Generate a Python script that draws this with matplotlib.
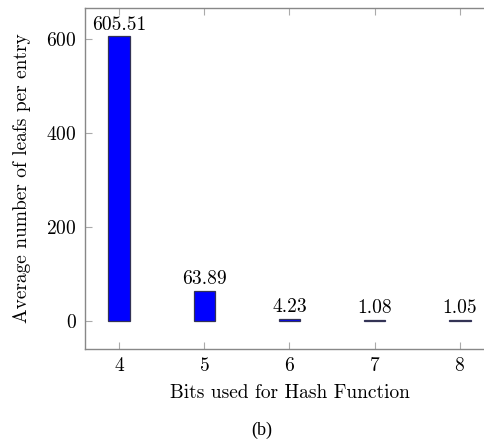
import matplotlib.pyplot as plt

bits = [4, 5, 6, 7, 8]
avg_leafs = [605.51, 63.89, 4.23, 1.08, 1.05]
bar_labels = ['605.51', '63.89', '4.23', '1.08', '1.05']

plt.rcParams['font.family'] = ['cmr10', 'DejaVu Serif']
plt.rcParams['axes.formatter.use_mathtext'] = True

fig = plt.figure(figsize=(4.85, 4.41), dpi=100)
# axes box in pixels: left 85, right ~494 (cut by figure), top 8, bottom 349
ax = fig.add_axes([85 / 485, 1 - 349 / 441, 409 / 485, 341 / 441])

ax.bar(bits, avg_leafs, width=0.25, color='#0000ff',
       edgecolor='#333355', linewidth=0.9, zorder=3)
for x, y, s in zip(bits, avg_leafs, bar_labels):
    ax.annotate(s, (x, y), xytext=(0, 2), textcoords='offset points',
                ha='center', va='bottom', fontsize=14)

ax.set_xlim(3.6, 8.4)
ax.set_ylim(-60.55, 666.06)
ax.set_xticks(bits)
ax.set_yticks([0, 200, 400, 600])
ax.tick_params(direction='in', length=5, color='#aaaaaa', width=0.8,
               top=True, right=True, labelsize=14, pad=6)
for sp in ax.spines.values():
    sp.set_color('#888888')
    sp.set_linewidth(1.0)

ax.set_xlabel('Bits used for Hash Function', fontsize=14, labelpad=6)
ax.set_ylabel('Average number of leafs per entry', fontsize=14, labelpad=11)

fig.text(262 / 485, 1 - 430 / 441, '(b)', ha='center', va='center',
         fontsize=13, family='Liberation Serif')

fig.savefig('out.png', dpi=100)
